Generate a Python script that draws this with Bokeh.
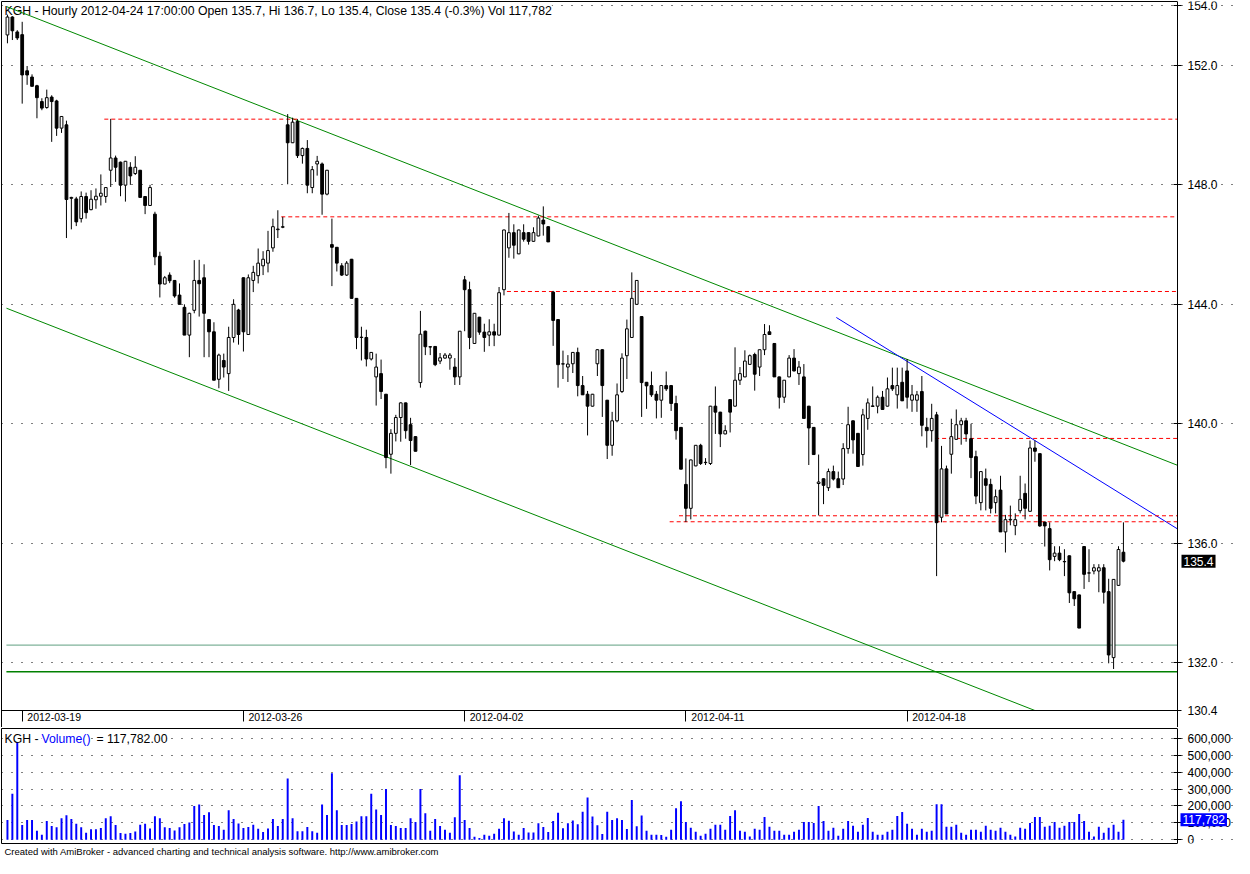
import numpy as np
from bokeh.plotting import figure
from bokeh.models import (ColumnDataSource, FixedTicker, NumeralTickFormatter,
                          Range1d, Label, LinearAxis, Title, Grid)
from bokeh.layouts import column
from bokeh.embed import file_html
from bokeh.resources import INLINE

# ---------------- data (hourly bars, index 0..227) ----------------
opens = [153.02,153.62,153.12,153.03,151.82,151.61,151.32,150.79,150.59,150.94,
         150.81,149.90,150.01,147.55,147.53,146.87,147.61,147.17,147.50,147.62,
         147.61,148.49,148.90,148.76,147.99,148.59,148.38,148.49,147.61,147.31,
         147.02,145.61,144.68,144.98,144.80,144.31,143.90,142.97,143.80,144.80,
         144.89,143.49,143.08,141.49,142.12,141.68,142.89,143.81,144.89,142.99,
         144.80,144.96,145.29,145.38,145.89,146.50,146.58,150.01,149.41,150.12,
         148.98,149.22,147.91,148.70,148.70,147.69,146.00,145.91,145.29,144.98,
         145.51,144.20,142.89,142.89,142.17,141.57,141.68,140.99,138.98,139.68,
         140.21,140.70,139.97,139.57,141.38,143.10,142.58,142.59,142.10,142.20,
         142.20,141.90,141.57,144.82,144.49,142.69,143.57,143.07,142.97,143.08,
         142.97,144.49,145.89,146.40,145.69,146.40,146.40,146.11,146.29,146.82,
         146.60,144.41,143.49,142.00,141.90,142.01,142.39,141.28,140.99,140.59,
         142.01,142.48,140.79,139.28,140.10,141.08,142.28,142.89,144.00,143.59,
         141.39,141.28,140.99,140.79,141.28,141.28,140.68,139.88,137.97,137.17,
         138.59,139.28,138.70,138.67,140.59,140.39,139.66,140.81,140.59,141.46,
         141.57,141.99,142.32,141.90,142.48,143.08,142.69,141.57,140.89,141.57,
         142.20,141.68,141.57,140.59,139.88,138.00,138.16,137.86,138.40,138.16,
         138.15,139.17,140.10,139.68,138.97,140.18,140.58,140.59,140.89,140.59,
         141.28,140.97,141.39,141.77,140.79,140.79,141.08,139.88,139.77,140.30,
         136.87,138.49,138.98,139.48,139.97,140.10,139.50,138.90,137.36,138.16,
         137.97,137.36,137.78,136.38,136.78,136.59,137.09,137.67,137.07,139.19,
         139.00,136.71,136.49,135.56,135.67,135.38,135.58,134.38,134.27,135.89,
         135.00,135.07,135.07,135.18,134.38,132.17,134.59,135.70]
highs = [153.70,153.65,153.18,153.46,151.98,151.70,151.35,150.90,151.19,151.00,
         150.85,150.30,150.15,147.60,147.60,147.78,147.74,147.82,147.88,148.35,
         147.91,150.21,148.98,148.78,148.80,148.76,148.96,148.50,147.62,148.00,
         147.10,145.76,144.95,145.07,144.81,144.70,144.00,143.72,145.48,145.49,
         145.34,143.50,143.40,142.35,142.35,143.25,144.17,143.85,144.90,145.00,
         145.29,145.87,145.78,146.46,146.87,147.15,146.93,150.37,150.25,150.20,
         149.25,149.50,148.63,148.97,148.75,148.50,146.87,145.92,145.38,145.45,
         145.52,144.21,143.25,143.15,142.40,142.35,142.15,141.00,139.82,140.30,
         140.72,140.71,140.20,139.58,143.78,143.12,142.60,142.60,142.37,142.37,
         142.37,142.20,143.10,144.95,144.76,143.70,143.58,143.35,143.50,143.35,
         144.58,146.50,147.06,146.68,146.50,146.68,146.41,146.58,146.97,147.28,
         146.61,144.45,143.50,142.45,142.30,142.40,142.55,141.60,141.10,141.00,
         142.50,142.50,140.80,140.40,141.35,142.36,143.49,145.07,144.80,143.60,
         141.40,141.75,141.10,141.29,141.75,141.30,140.94,139.89,138.84,138.80,
         139.28,139.33,138.85,140.60,141.25,140.40,139.95,140.82,142.56,141.90,
         142.46,142.32,142.38,142.48,143.34,143.30,142.70,141.58,141.46,142.30,
         142.50,142.10,142.00,140.60,139.89,138.97,138.17,138.50,138.60,138.40,
         139.35,140.57,140.11,139.69,140.50,140.85,141.25,140.95,141.10,141.55,
         141.88,141.88,141.88,142.17,141.30,141.10,141.60,140.20,140.67,140.40,
         139.26,138.60,140.17,140.48,140.20,140.20,140.00,139.10,138.40,138.50,
         138.16,137.80,138.26,136.95,137.26,137.00,138.26,138.00,139.44,139.44,
         139.01,136.72,136.70,135.90,135.90,135.80,135.59,134.39,134.28,135.90,
         135.80,135.30,135.30,135.30,134.81,134.79,135.90,136.70]
lows = [152.74,152.85,152.85,150.72,151.35,151.30,150.23,150.50,150.55,149.44,
        149.64,149.74,146.22,146.51,146.62,146.74,146.87,147.15,147.20,147.31,
        147.40,147.93,148.10,147.62,147.44,148.00,148.33,147.58,147.02,147.30,
        145.31,144.23,144.67,144.71,144.22,144.00,142.97,142.23,143.70,143.59,
        142.23,142.23,141.46,141.19,141.55,141.10,142.72,142.65,142.42,142.99,
        144.41,144.70,144.98,145.07,145.76,146.22,146.55,148.02,149.40,148.90,
        148.71,147.72,147.72,148.31,147.00,147.65,144.61,145.10,144.95,144.95,
        144.20,142.50,142.12,141.92,142.12,140.61,140.83,138.51,138.33,139.41,
        139.40,139.50,138.62,139.08,141.21,142.30,142.30,141.93,142.00,142.18,
        141.81,141.30,141.30,143.10,142.50,142.68,142.98,142.41,142.60,142.60,
        142.96,144.30,145.56,145.53,145.68,146.10,146.00,146.10,146.28,146.30,
        146.09,142.61,141.21,141.50,141.40,141.70,140.92,140.97,139.61,140.58,
        141.60,140.23,138.82,138.93,140.05,141.03,141.50,142.88,143.99,140.23,
        140.50,140.90,140.18,140.20,141.10,140.43,139.47,138.48,136.71,136.80,
        138.58,138.62,138.62,138.62,139.66,139.22,139.65,139.71,140.58,141.30,
        141.56,141.98,141.11,141.60,142.30,142.98,141.57,140.51,140.70,141.56,
        141.75,141.30,140.18,138.62,138.97,136.93,137.31,137.75,138.10,137.86,
        137.95,139.00,139.00,138.57,138.60,139.80,140.57,140.35,140.47,140.58,
        141.10,140.51,140.76,140.51,140.40,140.40,139.58,139.20,139.40,134.90,
        136.70,136.98,138.33,139.47,139.30,139.40,138.18,137.31,137.10,137.10,
        137.00,137.00,136.38,135.69,136.60,136.27,137.00,136.80,137.06,138.73,
        136.55,135.89,135.09,135.40,135.40,134.90,134.00,133.90,133.16,134.47,
        134.70,134.96,134.36,133.98,131.98,131.79,134.58,135.36]
closes = [153.62,153.16,152.92,151.68,151.68,151.30,150.92,150.57,150.92,150.79,
          149.90,150.29,147.51,147.58,146.76,147.61,147.07,147.52,147.62,147.72,
          147.91,148.90,148.59,147.99,148.79,148.30,148.59,147.58,147.31,147.91,
          145.59,144.68,144.89,144.79,144.28,144.00,142.97,143.70,144.80,144.69,
          143.70,143.08,141.46,142.30,141.90,142.89,144.00,142.99,143.08,144.89,
          145.07,145.38,145.51,145.80,146.60,146.52,146.60,149.41,150.10,148.98,
          149.22,147.99,148.51,148.79,147.69,148.49,145.91,145.38,144.98,145.38,
          144.20,142.89,142.90,142.17,142.39,141.90,141.08,138.87,139.68,140.21,
          140.70,139.77,139.44,139.08,143.00,142.58,142.57,141.98,142.21,142.30,
          142.30,141.57,143.10,144.49,142.89,143.70,143.07,142.89,143.08,142.97,
          144.39,146.49,146.40,145.98,146.49,146.18,146.11,146.40,146.89,146.69,
          146.09,143.46,141.98,142.01,142.00,142.39,141.28,140.97,140.59,140.99,
          142.48,141.28,139.28,140.10,140.97,142.20,143.18,144.20,144.80,141.38,
          141.27,140.97,140.79,141.28,141.17,140.68,139.77,138.48,137.17,138.79,
          139.28,138.67,138.71,140.59,140.39,139.66,139.77,140.39,141.46,141.68,
          142.10,142.28,141.66,142.48,142.99,142.99,141.57,140.89,141.46,142.20,
          141.77,141.90,140.18,139.86,138.97,138.05,137.94,138.40,138.15,137.86,
          139.17,139.97,139.46,138.57,140.30,140.70,140.60,140.89,140.48,141.17,
          141.17,141.28,140.77,140.89,140.97,140.97,139.95,139.77,140.18,136.69,
          138.49,136.98,139.57,139.97,140.10,139.66,138.87,137.58,138.40,137.94,
          137.17,137.56,136.38,136.79,136.80,136.79,137.47,137.17,139.19,139.08,
          136.58,136.58,135.45,135.67,135.45,135.39,134.34,134.14,133.16,134.96,
          135.01,135.18,135.18,134.36,132.26,134.79,135.79,135.40]
volume_k = [116,272,575,87,116,116,52,29,110,81,
            73,127,145,122,95,73,41,62,62,69,
            127,139,87,39,35,39,48,89,95,66,
            139,127,73,69,54,73,93,102,199,208,
            147,162,87,81,58,174,122,96,69,75,
            89,64,46,66,122,81,122,363,127,50,
            50,75,50,41,208,147,394,174,87,87,
            93,108,139,139,272,179,147,301,87,81,
            69,69,127,104,301,156,52,122,81,58,
            41,133,382,116,69,17,10,29,23,35,
            64,127,112,48,29,69,42,42,98,75,
            46,110,160,68,97,114,91,165,250,137,
            85,34,165,116,127,116,63,235,80,144,
            52,29,29,28,17,58,187,228,105,70,
            47,23,35,64,88,88,58,140,175,53,
            47,18,64,58,134,76,53,53,29,29,
            47,58,105,105,99,199,111,53,70,23,
            64,111,82,47,88,129,47,29,29,47,
            58,140,164,94,64,29,64,47,53,210,
            210,76,76,88,41,29,58,58,47,82,
            58,53,70,47,29,18,70,64,99,134,
            134,76,82,105,70,82,105,105,152,111,
            47,18,76,41,70,88,47,117.782]

date_ticks = [3, 48, 93, 138, 183]
date_labels = ["2012-03-19", "2012-03-26", "2012-04-02", "2012-04-11", "2012-04-18"]

price_ticks = [130.4, 132, 136, 140, 144, 148, 152, 154]
price_grid = [132, 136, 140, 144, 148, 152, 154]
volume_ticks = [0, 100000, 200000, 300000, 400000, 500000, 600000]

# trend lines: (bar index, price) anchor points
upper_channel_x = [-0.2, 238.0]
upper_channel_y = [153.97, 138.61]
lower_channel_x = [-0.2, 209.0]
lower_channel_y = [143.87, 130.40]
blue_trend_x = [168.6, 238.0]
blue_trend_y = [143.56, 136.48]
# horizontal dashed levels (start bar, price)
red_levels_start = [19.7, 55.7, 101.6, 188.7, 136.6, 134.7]
red_levels_price = [150.20, 146.93, 144.43, 139.51, 136.92, 136.72]
support_upper = 132.59
support_lower = 131.70

header = ("KGH - Hourly 2012-04-24 17:00:00 Open 135.7, Hi 136.7, Lo 135.4, "
          "Close 135.4 (-0.3%) Vol 117,782")
footer = ("Created with AmiBroker - advanced charting and technical analysis "
          "software. http://www.amibroker.com")

# ---------------- geometry ----------------
FONT = "Liberation Sans"
W = 1234
X0 = -1.21          # left edge of the chart area (bar units)
XA = 238.0          # location of the price / volume axis line (bar units)
AXIS_PX = 1177      # pixel position of that axis line
PX_PER_BAR = (AXIS_PX - 1) / (XA - X0)
XEND = XA + (W - AXIS_PX) / PX_PER_BAR

PRICE_TOP = 154.14
PRICE_BOTTOM = 130.4
PRICE_PX = 709      # height of the price area
STRIP_PX = 17       # date strip below it (same frame)
YBOT = PRICE_BOTTOM - STRIP_PX * (PRICE_TOP - PRICE_BOTTOM) / PRICE_PX

n = len(opens)
x = np.arange(n)
o = np.array(opens); h = np.array(highs); l = np.array(lows); c = np.array(closes)
up = c >= o
src = ColumnDataSource(dict(
    x=x, h=h, l=l,
    top=np.maximum(o, c), bottom=np.minimum(o, c),
    fill=np.where(up, "white", "black"),
))
vsrc = ColumnDataSource(dict(x=x, v=np.array(volume_k) * 1000.0))

xr = Range1d(X0, XEND)
yr = Range1d(YBOT, PRICE_TOP)


def plain_axis(**kw):
    return LinearAxis(ticker=FixedTicker(ticks=[]), axis_line_color="black",
                      major_tick_line_color=None, minor_tick_line_color=None,
                      major_label_text_font_size="0px", **kw)


def value_axis(ticks, fmt):
    return LinearAxis(ticker=FixedTicker(ticks=ticks),
                      formatter=NumeralTickFormatter(format=fmt),
                      fixed_location=XA,
                      major_label_text_font=FONT,
                      major_label_text_font_size="12px",
                      major_label_text_color="black",
                      major_tick_in=4, major_tick_out=4,
                      minor_tick_line_color=None,
                      axis_line_color="black",
                      major_label_standoff=6)


def dotted_grid(ticks):
    return Grid(dimension=1, ticker=FixedTicker(ticks=ticks), bounds=(X0, XA),
                grid_line_color="black", grid_line_dash="1 9")


def new_pane(height, yrange, bottom_border):
    f = figure(width=W, height=height, x_range=xr, y_range=yrange,
               output_backend="svg", toolbar_location=None,
               y_axis_location=None, x_axis_location=None,
               min_border_left=1, min_border_top=1, min_border_right=0,
               min_border_bottom=bottom_border, outline_line_color=None,
               background_fill_color="white", border_fill_color="white")
    # drop the default grids (they come with the unused default axes)
    f.center = [r for r in f.center if not isinstance(r, Grid)]
    f.add_layout(plain_axis(bounds=(X0, XA)), "above")
    f.add_layout(plain_axis(), "left")
    return f


# ---------------- price pane ----------------
p = new_pane(1 + PRICE_PX + STRIP_PX, yr, 0)
p.add_layout(dotted_grid(price_grid))
p.add_layout(value_axis(price_ticks, "0.0"), "right")

# date axis on the bottom edge of the price area:
# tick marks at the first bar of each week, label just right of each mark
LABEL_SHIFT = 6.5
date_axis = LinearAxis(
    fixed_location=PRICE_BOTTOM, bounds=(X0, XA),
    ticker=FixedTicker(ticks=[t + LABEL_SHIFT for t in date_ticks],
                       minor_ticks=date_ticks),
    major_label_overrides={t + LABEL_SHIFT: lab for t, lab in zip(date_ticks, date_labels)},
    major_tick_line_color=None, major_tick_out=0, major_tick_in=0,
    minor_tick_line_color="black", minor_tick_out=11, minor_tick_in=0,
    axis_line_color="black", major_label_standoff=-9,
    major_label_text_font=FONT, major_label_text_font_size="10.5px",
    major_label_text_color="black")
p.add_layout(date_axis, "below")

# header (white box hides the grid dots, trend line stays on top)
p.add_layout(Label(x=X0, y=PRICE_TOP, x_offset=3, y_offset=-2, text=header,
                   text_font=FONT, text_font_size="12.25px", text_baseline="top",
                   text_color="black", background_fill_color="white",
                   level="underlay"))

# horizontal support lines
p.line([X0 + 1.0, XA], [support_upper, support_upper], line_color="#5f9f80", line_width=1)
p.line([X0 + 1.0, XA], [support_lower, support_lower], line_color="#008000", line_width=1.6)

# trend lines
p.line(upper_channel_x, upper_channel_y, line_color="#008800", line_width=1)
p.line(lower_channel_x, lower_channel_y, line_color="#008800", line_width=1)
p.line(blue_trend_x, blue_trend_y, line_color="#0000ff", line_width=1)
for xs, lv in zip(red_levels_start, red_levels_price):
    p.line([xs, XA], [lv, lv], line_color="#ff0000", line_width=1, line_dash="4 3")

# candles
p.segment(x0="x", y0="l", x1="x", y1="h", source=src, line_color="black", line_width=1)
p.vbar(x="x", top="top", bottom="bottom", width=0.56, source=src,
       fill_color="fill", line_color="black", line_width=1)

# last price box on the axis
p.add_layout(Label(x=XA, y=closes[-1], x_offset=4, text="135.4",
                   text_font=FONT, text_font_size="12px", text_baseline="middle",
                   text_color="white", background_fill_color="black", padding=2))

# ---------------- volume pane ----------------
vr = Range1d(-23000, 660000)
q = new_pane(131, vr, 15)
q.add_layout(plain_axis(bounds=(X0, XA)), "below")
q.add_layout(dotted_grid(volume_ticks))
q.add_layout(value_axis(volume_ticks, "0,0"), "right")

q.vbar(x="x", top="v", bottom=0, width=0.4, source=vsrc,
       fill_color="#0000ff", line_color=None)

for txt, off, col in [("KGH -", 3, "black"), ("Volume()", 40, "#0000ff"),
                      ("= 117,782.00", 95, "black")]:
    q.add_layout(Label(x=X0, y=vr.end, x_offset=off, y_offset=-3, text=txt,
                       text_font=FONT, text_font_size="12.25px", text_baseline="top",
                       text_color=col, background_fill_color="white",
                       level="underlay"))
q.add_layout(Label(x=XA, y=volume_k[-1] * 1000.0, x_offset=3, text="117,782",
                   text_font=FONT, text_font_size="12px", text_baseline="middle",
                   text_color="white", background_fill_color="#0000ff", padding=2))

q.add_layout(Title(text=footer, align="left", offset=3, standoff=1,
                   text_font=FONT, text_font_size="9.5px", text_font_style="normal",
                   text_color="black"), "below")

layout = column(p, q, spacing=0)
open("out.html", "w").write(file_html(layout, INLINE))
